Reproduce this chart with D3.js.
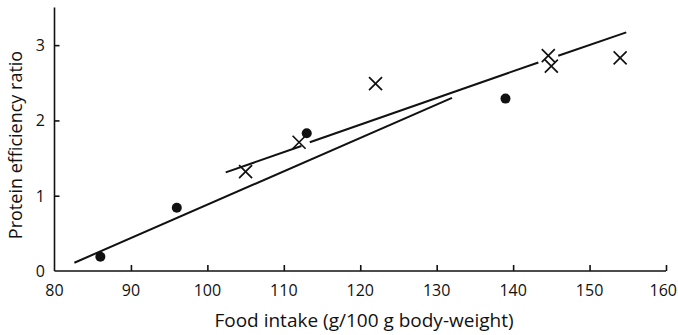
<!DOCTYPE html>
<html>
<head>
<meta charset="utf-8">
<script src="https://cdn.jsdelivr.net/npm/d3@7"></script>
<style>
  body { margin: 0; background: #fff; }
  svg text { font-family: "Open Sans", Lato, sans-serif; fill: #111; }
</style>
</head>
<body>
<div id="screen"></div>
<script>
var width = 678;
var height = 335;

var dotX = [86, 96, 113, 139];
var dotY = [0.19, 0.84, 1.83, 2.29];
var crossX = [105, 112, 122, 144.6, 145, 154];
var crossY = [1.32, 1.71, 2.49, 2.86, 2.72, 2.83];

// fitted lines (hand drawn, so the upper one is broken in places)
var lowerLineX = [82.6, 132];
var lowerLineY = [0.11, 2.30];
var upperSegX = [[102.4, 112.3], [113.4, 143.3], [145.9, 154.8]];
var upperSegY = [[1.31, 1.66], [1.71, 2.77], [2.86, 3.17]];

var xTicks = [80, 90, 100, 110, 120, 130, 140, 150, 160];
var yTicks = [0, 1, 2, 3];

var scaleX = d3.scaleLinear().domain([80, 160]).range([54.5, 666]);
var scaleY = d3.scaleLinear().domain([0, 3.5]).range([271, 7.5]);

var svg = d3.select("#screen").append("svg")
  .attr("width", width).attr("height", height);

// axes: ticks point inward
var xAxis = d3.axisTop(scaleX).tickValues(xTicks).tickSize(6).tickFormat("");
var xAxisG = svg.append("g").attr("transform", "translate(0," + scaleY(0) + ")").call(xAxis);
xAxisG.select(".domain").attr("d", "M" + scaleX(80) + ",0H" + scaleX(160));
xAxisG.selectAll(".tick").filter(function (d) { return d == 80; }).remove();

var yAxis = d3.axisRight(scaleY).tickValues(yTicks).tickSize(5).tickFormat("");
var yAxisG = svg.append("g").attr("transform", "translate(" + scaleX(80) + ",0)").call(yAxis);
yAxisG.select(".domain").attr("d", "M0," + scaleY(0) + "V" + scaleY(3.5));
yAxisG.selectAll(".tick").filter(function (d) { return d == 0; }).remove();

svg.selectAll("g .domain, g .tick line").attr("stroke", "#111").attr("stroke-width", 1.6);

// tick labels
svg.selectAll("text.xlab").data(xTicks).enter().append("text")
  .attr("class", "xlab")
  .attr("x", function (d) { return d == 160 ? 677 : scaleX(d); })
  .attr("y", 296)
  .attr("text-anchor", function (d) { return d == 160 ? "end" : "middle"; })
  .attr("font-size", 16)
  .text(function (d) { return d; });

svg.selectAll("text.ylab").data(yTicks).enter().append("text")
  .attr("class", "ylab")
  .attr("x", 45)
  .attr("y", function (d) { return scaleY(d) + 6; })
  .attr("text-anchor", "end")
  .attr("font-size", 16)
  .text(function (d) { return d; });

svg.append("text")
  .attr("x", 364).attr("y", 326.5)
  .attr("text-anchor", "middle")
  .attr("font-size", 19)
  .text("Food intake (g/100 g body-weight)");

svg.append("text")
  .attr("transform", "translate(22,145) rotate(-90)")
  .attr("text-anchor", "middle")
  .attr("font-size", 18)
  .text("Protein efficiency ratio");

// lines
var line = d3.line()
  .x(function (d) { return scaleX(d[0]); })
  .y(function (d) { return scaleY(d[1]); });

svg.append("path")
  .datum(d3.zip(lowerLineX, lowerLineY))
  .attr("d", line)
  .attr("fill", "none").attr("stroke", "#111").attr("stroke-width", 2);

svg.selectAll("path.upper").data(d3.range(upperSegX.length)).enter().append("path")
  .attr("class", "upper")
  .attr("d", function (i) { return line(d3.zip(upperSegX[i], upperSegY[i])); })
  .attr("fill", "none").attr("stroke", "#111").attr("stroke-width", 2);

// markers
svg.selectAll("circle").data(d3.range(dotX.length)).enter().append("circle")
  .attr("cx", function (i) { return scaleX(dotX[i]); })
  .attr("cy", function (i) { return scaleY(dotY[i]); })
  .attr("r", 5)
  .attr("fill", "#111");

var c = 6.5;
svg.selectAll("path.cross").data(d3.range(crossX.length)).enter().append("path")
  .attr("class", "cross")
  .attr("d", function (i) {
    var x = scaleX(crossX[i]), y = scaleY(crossY[i]);
    return "M" + (x - c) + "," + (y - c) + "L" + (x + c) + "," + (y + c) +
      "M" + (x - c) + "," + (y + c) + "L" + (x + c) + "," + (y - c);
  })
  .attr("fill", "none").attr("stroke", "#111").attr("stroke-width", 1.7);
</script>
</body>
</html>
